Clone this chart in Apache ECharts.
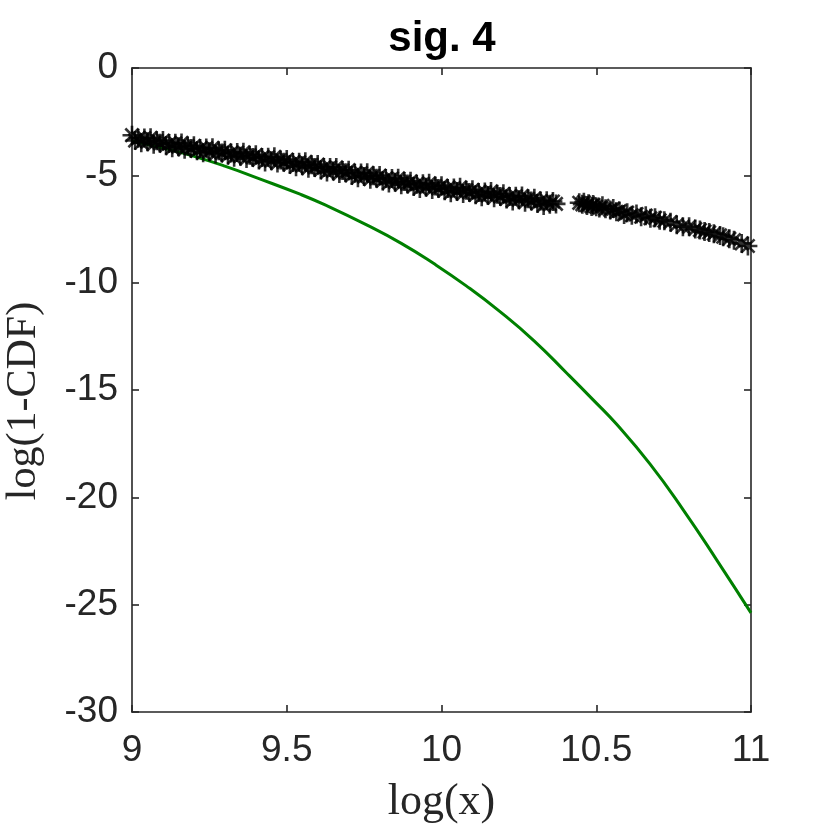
<!DOCTYPE html>
<html>
<head>
<meta charset="UTF-8">
<title>sig. 4</title>
<script src="https://cdn.jsdelivr.net/npm/echarts@6/dist/echarts.min.js"></script>
<style>
  html, body { margin: 0; padding: 0; background: #fff; }
  #main { width: 830px; height: 830px; }
</style>
</head>
<body>
<div id="main"></div>
<script>
var tailX = [
  9.00, 9.01, 9.02, 9.03, 9.04, 9.05, 9.06, 9.07, 9.08, 9.09,
  9.10, 9.11, 9.12, 9.13, 9.14, 9.15, 9.16, 9.17, 9.18, 9.19,
  9.20, 9.21, 9.22, 9.23, 9.24, 9.25, 9.26, 9.27, 9.28, 9.29,
  9.30, 9.31, 9.32, 9.33, 9.34, 9.35, 9.36, 9.37, 9.38, 9.39,
  9.40, 9.41, 9.42, 9.43, 9.44, 9.45, 9.46, 9.47, 9.48, 9.49,
  9.50, 9.51, 9.52, 9.53, 9.54, 9.55, 9.56, 9.57, 9.58, 9.59,
  9.60, 9.61, 9.62, 9.63, 9.64, 9.65, 9.66, 9.67, 9.68, 9.69,
  9.70, 9.71, 9.72, 9.73, 9.74, 9.75, 9.76, 9.77, 9.78, 9.79,
  9.80, 9.81, 9.82, 9.83, 9.84, 9.85, 9.86, 9.87, 9.88, 9.89,
  9.90, 9.91, 9.92, 9.93, 9.94, 9.95, 9.96, 9.97, 9.98, 9.99,
  10.00, 10.01, 10.02, 10.03, 10.04, 10.05, 10.06, 10.07, 10.08, 10.09,
  10.10, 10.11, 10.12, 10.13, 10.14, 10.15, 10.16, 10.17, 10.18, 10.19,
  10.20, 10.21, 10.22, 10.23, 10.24, 10.25, 10.26, 10.27, 10.28, 10.29,
  10.30, 10.31, 10.32, 10.33, 10.34, 10.35, 10.36, 10.37,
  10.445, 10.455, 10.46, 10.47, 10.475, 10.485, 10.49, 10.50, 10.51, 10.52,
  10.53, 10.545, 10.555, 10.565, 10.575, 10.59, 10.60, 10.615, 10.63, 10.645,
  10.66, 10.675, 10.69, 10.705, 10.72, 10.74, 10.76, 10.78, 10.80, 10.82,
  10.835, 10.85, 10.865, 10.88, 10.90, 10.91, 10.93, 10.945, 10.97, 10.99
];
var tailY = [
  -3.13, -3.38, -3.27, -3.48, -3.26, -3.43, -3.25, -3.55, -3.39, -3.51,
  -3.38, -3.62, -3.52, -3.72, -3.51, -3.67, -3.49, -3.79, -3.63, -3.75,
  -3.62, -3.86, -3.75, -3.95, -3.73, -3.90, -3.72, -4.01, -3.85, -3.96,
  -3.83, -4.07, -3.96, -4.16, -3.94, -4.11, -3.93, -4.22, -4.06, -4.17,
  -4.04, -4.28, -4.17, -4.38, -4.16, -4.32, -4.14, -4.43, -4.28, -4.39,
  -4.26, -4.50, -4.40, -4.60, -4.39, -4.55, -4.37, -4.67, -4.51, -4.63,
  -4.50, -4.75, -4.64, -4.85, -4.63, -4.80, -4.63, -4.92, -4.77, -4.88,
  -4.76, -5.01, -4.90, -5.11, -4.89, -5.06, -4.88, -5.18, -5.02, -5.14,
  -5.01, -5.26, -5.15, -5.36, -5.15, -5.32, -5.14, -5.44, -5.29, -5.40,
  -5.28, -5.52, -5.41, -5.61, -5.39, -5.55, -5.37, -5.66, -5.50, -5.61,
  -5.48, -5.72, -5.61, -5.81, -5.59, -5.75, -5.56, -5.85, -5.69, -5.80,
  -5.67, -5.91, -5.80, -6.00, -5.78, -5.94, -5.75, -6.04, -5.88, -5.99,
  -5.86, -6.10, -5.99, -6.19, -5.97, -6.14, -5.96, -6.25, -6.09, -6.20,
  -6.07, -6.31, -6.20, -6.40, -6.18, -6.35, -6.22, -6.33,
  -6.28, -6.35, -6.25, -6.40, -6.32, -6.45, -6.36, -6.46, -6.52, -6.42,
  -6.56, -6.61, -6.55, -6.70, -6.66, -6.82, -6.74, -6.86, -6.80, -6.93,
  -6.88, -7.00, -6.98, -7.09, -7.12, -7.18, -7.30, -7.39, -7.40, -7.50,
  -7.55, -7.62, -7.66, -7.72, -7.80, -7.86, -7.95, -8.02, -8.17, -8.29
];

// fitted model curve (green)
var fitX = [9.000, 9.100, 9.193, 9.300, 9.408, 9.543, 9.624, 9.758, 9.870, 9.974,
            10.080, 10.189, 10.300, 10.405, 10.490, 10.566, 10.674, 10.781, 10.889, 11.000];
var fitY = [-3.40, -3.73, -4.08, -4.57, -5.14, -5.88, -6.38, -7.31, -8.17, -9.10,
            -10.15, -11.35, -12.72, -14.22, -15.46, -16.60, -18.45, -20.58, -22.91, -25.38];

var xTicks = [9, 9.5, 10, 10.5, 11];
var yTicks = [0, -5, -10, -15, -20, -25, -30];

var axisColor = '#262626';
var tickFont = 'Liberation Sans, Arial, Helvetica, sans-serif';
var texFont = 'Liberation Serif, DejaVu Serif, serif';

var tailData = tailX.map(function (x, i) { return [x, tailY[i]]; });
var fitData = fitX.map(function (x, i) { return [x, fitY[i]]; });

// MATLAB-style '*' marker
var asterisk = 'path://M10,0 L10,20 M0,10 L20,10 M3,3 L17,17 M3,17 L17,3';

function boxAxis(extra) {
  var base = {
    type: 'value',
    axisLine: { show: true, onZero: false, lineStyle: { color: axisColor, width: 1.6 } },
    axisTick: { show: true, inside: true, length: 7, lineStyle: { color: axisColor, width: 1.6 } },
    splitLine: { show: false },
    axisLabel: { show: false }
  };
  for (var k in extra) base[k] = extra[k];
  return base;
}

var myChart = echarts.init(document.getElementById('main'), null, { renderer: 'canvas' });

myChart.setOption({
  animation: false,
  backgroundColor: '#fff',
  title: {
    text: 'sig. 4',
    left: 437,
    top: 13,
    textAlign: 'center',
    textStyle: { fontFamily: tickFont, fontWeight: 'bold', fontSize: 42, color: '#000' }
  },
  grid: {
    left: 132, right: 79, top: 68, bottom: 118,
    containLabel: false,
    outerBoundsMode: 'none'
  },
  xAxis: [
    boxAxis({
      position: 'bottom', min: 9, max: 11, interval: 0.5,
      name: 'log(x)', nameLocation: 'middle', nameGap: 68,
      nameTextStyle: { fontFamily: texFont, fontSize: 44, color: axisColor },
      axisLabel: {
        show: true, margin: 20, fontFamily: tickFont, fontSize: 37, color: axisColor,
        formatter: function (v) { return xTicks.indexOf(v) >= 0 ? String(v) : ''; }
      }
    }),
    boxAxis({ position: 'top', min: 9, max: 11, interval: 0.5 })
  ],
  yAxis: [
    boxAxis({
      position: 'left', min: -30, max: 0, interval: 5,
      name: 'log(1-CDF)', nameLocation: 'middle', nameGap: 87, nameRotate: 90,
      nameTextStyle: { fontFamily: texFont, fontSize: 42, color: axisColor, padding: [0, 22, 0, 0] },
      axisLabel: {
        show: true, margin: 14, fontFamily: tickFont, fontSize: 37, color: axisColor,
        formatter: function (v) { return yTicks.indexOf(v) >= 0 ? String(v) : ''; }
      }
    }),
    boxAxis({ position: 'right', min: -30, max: 0, interval: 5 })
  ],
  series: [
    {
      name: 'fit',
      type: 'line',
      xAxisIndex: 0,
      yAxisIndex: 0,
      data: fitData,
      showSymbol: false,
      smooth: 0.5,
      lineStyle: { color: '#008000', width: 3 },
      z: 2
    },
    {
      name: 'tail',
      type: 'scatter',
      xAxisIndex: 0,
      yAxisIndex: 0,
      data: tailData,
      symbol: asterisk,
      symbolSize: 19,
      clip: false,
      itemStyle: { color: 'rgba(0,0,0,0)', borderColor: '#000', borderWidth: 2.6 },
      z: 3
    }
  ]
});
</script>
</body>
</html>
